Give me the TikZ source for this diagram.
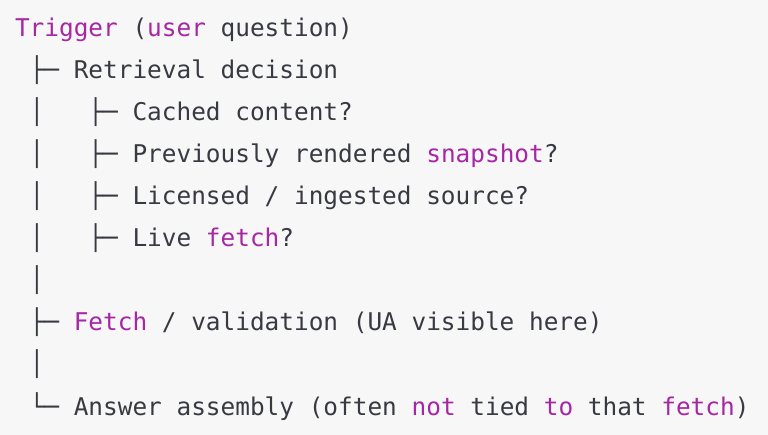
\documentclass[tikz,border=0pt]{standalone}
\usepackage{fontspec}
\newfontfamily\codefont{DejaVu Sans Mono}
\definecolor{codebg}{HTML}{F7F7F7}
\definecolor{codefg}{HTML}{383A42}
\definecolor{kwpurple}{HTML}{A626A4}
\newcommand{\kw}[1]{\textcolor{kwpurple}{#1}}
\tikzset{code/.style={anchor=base west,inner sep=0pt,outer sep=0pt,text=codefg,
                      font=\codefont\fontsize{24.4}{42}\selectfont},
         }

\begin{document}
\begin{tikzpicture}[x=14.69pt, y=-42pt]
\fill[codebg] (-15pt,37pt) rectangle (753pt,-398pt);
\useasboundingbox (-15pt,37pt) rectangle (753pt,-398pt);
% root
\node[code] (trigger) at (0,0) {\kw{Trigger} (\kw{user} question)};
% first level
\node[code] (retrieval) at (1,1) {├─ Retrieval decision};
\node[code] (fetch)     at (1,7) {├─ \kw{Fetch} / validation (UA visible here)};
\node[code] (answer)    at (1,9) {└─ Answer assembly (often \kw{not} tied \kw{to} that \kw{fetch})};
% second level
\node[code] (cached)    at (5,2) {├─ Cached content?};
\node[code] (snapshot)  at (5,3) {├─ Previously rendered \kw{snapshot}?};
\node[code] (licensed)  at (5,4) {├─ Licensed / ingested source?};
\node[code] (live)      at (5,5) {├─ Live \kw{fetch}?};
% trunk
\foreach \r in {2,...,6,8}
  \node[code] (bar\r) at (1,\r) {│};
\end{tikzpicture}
\end{document}
